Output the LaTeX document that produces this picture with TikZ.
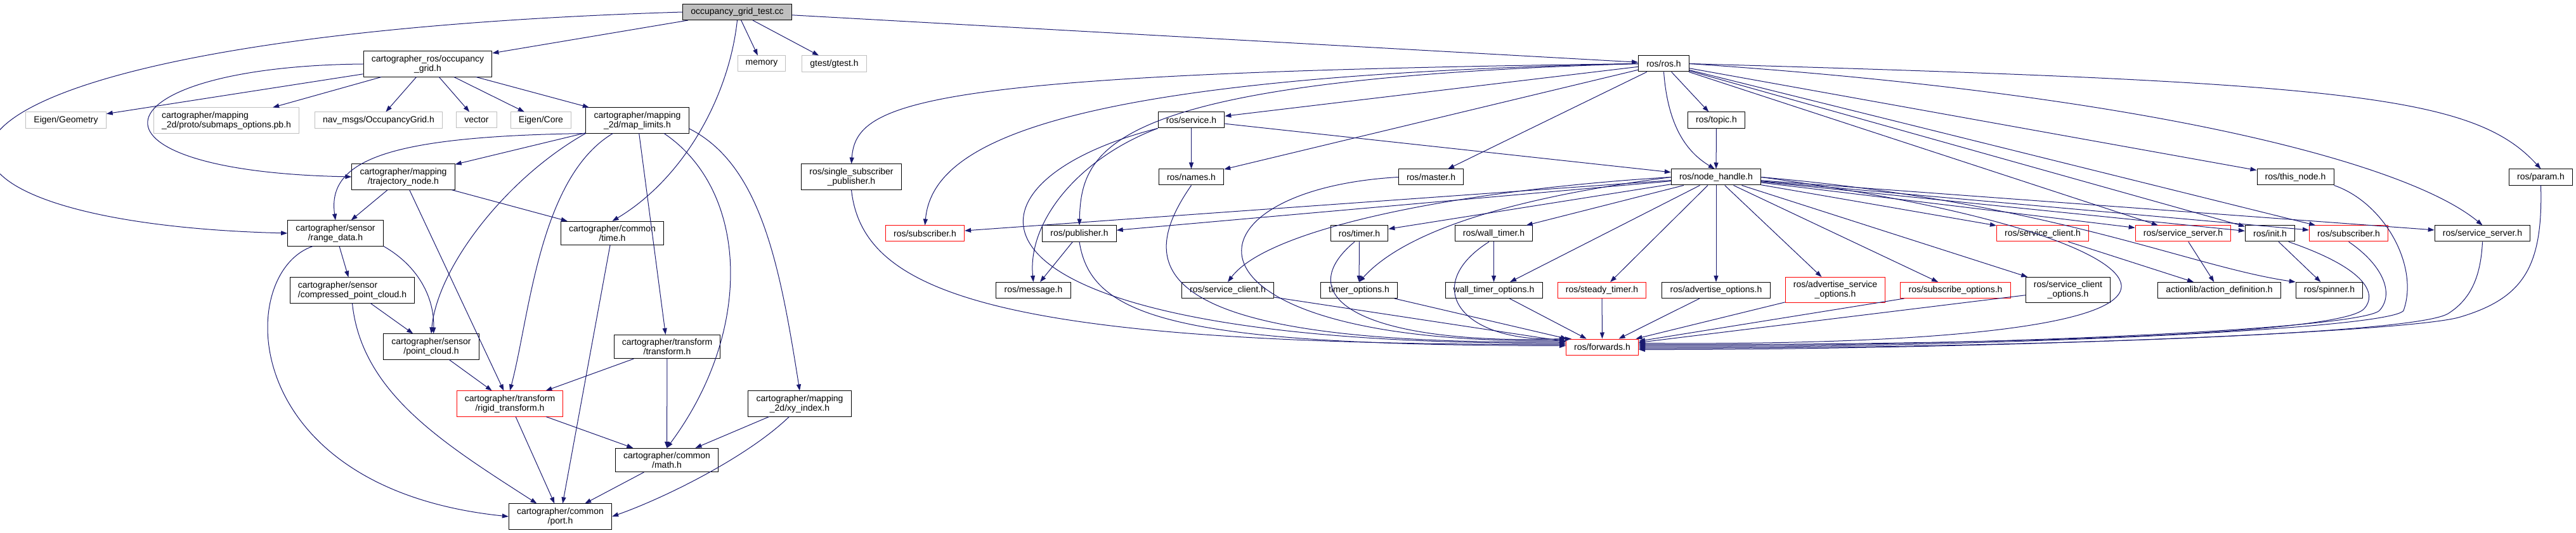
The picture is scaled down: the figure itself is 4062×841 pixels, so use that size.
\documentclass[tikz,border=0pt]{standalone}
\usepackage{fontspec}
\setmainfont{Liberation Sans}
\usetikzlibrary{arrows.meta}
\definecolor{edgeblue}{RGB}{25,25,112}
\definecolor{boxgray}{RGB}{191,191,191}

\begin{document}
\begin{tikzpicture}[x=0.75pt, y=-0.75pt, >={Triangle[length=7.5pt,width=5.25pt]},
  file/.style={draw, rectangle, line width=0.75pt, inner xsep=9.5pt, inner ysep=4.5pt, minimum height=18.75pt, align=center, font=\fontsize{10.5}{11.25}\selectfont},
  sysfile/.style={file, draw=boxgray},
  cutfile/.style={file, draw=red},
  rootfile/.style={file, fill=boxgray},
  dep/.style={->, draw=edgeblue, line width=0.75pt},
  every edge/.style={dep}]

  \useasboundingbox (0,0) rectangle (4062,841);

  % cartographer side
  \node[rootfile] (test) at (1162.5,19) {occupancy\_grid\_test.cc};
  \node[file] (ogrid) at (674.5,101) {cartographer\_ros/occupancy\\\_grid.h};
  \node[sysfile] (memory) at (1201,100.5) {memory};
  \node[sysfile] (gtest) at (1315.5,100.5) {gtest/gtest.h};
  \node[sysfile] (geometry) at (104,189.5) {Eigen/Geometry};
  \node[sysfile, align=left] (submaps) at (357,190) {cartographer/mapping\\\_2d/proto/submaps\_options.pb.h};
  \node[sysfile] (navmsgs) at (597,189.5) {nav\_msgs/OccupancyGrid.h};
  \node[sysfile] (vector) at (751.5,189.5) {vector};
  \node[sysfile] (eigencore) at (853,189.5) {Eigen/Core};
  \node[file] (limits) at (1005,190) {cartographer/mapping\\\_2d/map\_limits.h};
  \node[file] (trajnode) at (636,279) {cartographer/mapping\\/trajectory\_node.h};
  \node[file] (ssp) at (1342.5,279) {ros/single\_subscriber\\\_publisher.h};
  \node[file] (rangedata) at (529,368) {cartographer/sensor\\/range\_data.h};
  \node[file] (time) at (965.5,368) {cartographer/common\\/time.h};
  \node[file, align=left] (compressed) at (555.5,458) {cartographer/sensor\\/compressed\_point\_cloud.h};
  \node[file] (pointcloud) at (680,547) {cartographer/sensor\\/point\_cloud.h};
  \node[file] (transform) at (1052,547) {cartographer/transform\\/transform.h};
  \node[cutfile] (rigid) at (804,637) {cartographer/transform\\/rigid\_transform.h};
  \node[file] (xyindex) at (1261,637) {cartographer/mapping\\\_2d/xy\_index.h};
  \node[file] (math) at (1051.5,726) {cartographer/common\\/math.h};
  \node[file] (port) at (883.5,815) {cartographer/common\\/port.h};

  % ros side
  \node[file] (ros) at (2623.5,100.5) {ros/ros.h};
  \node[file] (service) at (1878.5,189.5) {ros/service.h};
  \node[file] (topic) at (2706.5,189.5) {ros/topic.h};
  \node[file] (names) at (1878.5,279.5) {ros/names.h};
  \node[file] (master) at (2256.5,279.5) {ros/master.h};
  \node[file] (handle) at (2706,279.5) {ros/node\_handle.h};
  \node[file] (thisnode) at (3619.5,279.5) {ros/this\_node.h};
  \node[file] (param) at (4006.5,279.5) {ros/param.h};
  \node[cutfile] (subA) at (1458.5,368.5) {ros/subscriber.h};
  \node[file] (publisher) at (1702,368.5) {ros/publisher.h};
  \node[file] (timer) at (2143.5,368.5) {ros/timer.h};
  \node[file] (walltimer) at (2355.5,368.5) {ros/wall\_timer.h};
  \node[cutfile] (clientA) at (3221,368.5) {ros/service\_client.h};
  \node[cutfile] (serverA) at (3442.5,368.5) {ros/service\_server.h};
  \node[file] (init) at (3579.5,368.5) {ros/init.h};
  \node[cutfile] (subB) at (3703.5,368.5) {ros/subscriber.h};
  \node[file] (serverB) at (3914.5,368.5) {ros/service\_server.h};
  \node[file] (message) at (1629.5,458) {ros/message.h};
  \node[file] (clientB) at (1936,458) {ros/service\_client.h};
  \node[file] (timeropt) at (2143,458) {timer\_options.h};
  \node[file] (walltimeropt) at (2355.5,458) {wall\_timer\_options.h};
  \node[cutfile] (steady) at (2526,458) {ros/steady\_timer.h};
  \node[file] (advopt) at (2706,458) {ros/advertise\_options.h};
  \node[cutfile] (advsrvopt) at (2894,457.5) {ros/advertise\_service\\\_options.h};
  \node[cutfile] (subopt) at (3083.5,458) {ros/subscribe\_options.h};
  \node[file] (clientopt) at (3261,457.5) {ros/service\_client\\\_options.h};
  \node[file] (actiondef) at (3499.5,458) {actionlib/action\_definition.h};
  \node[file] (spinner) at (3673,458) {ros/spinner.h};
  \node[cutfile] (forwards) at (2526.5,547.5) {ros/forwards.h};

  \path
  (test) edge (ogrid)
         edge (memory)
         edge (gtest)
         edge (ros)
  (ogrid) edge (geometry)
          edge (submaps)
          edge (navmsgs)
          edge (vector)
          edge (eigencore)
          edge (limits)
  (limits) edge (trajnode)
           edge (transform)
  (trajnode) edge (rangedata)
             edge (time)
             edge (rigid)
  (rangedata) edge (compressed)
  (compressed) edge (pointcloud)
  (pointcloud) edge (rigid)
  (transform) edge (rigid)
              edge (math)
  (rigid) edge (math)
          edge (port)
  (math) edge (port)
  (xyindex) edge (math)
  (time) edge (port);

  % curved ones on the cartographer side
  \draw[dep] (test.west) .. controls (-250,60) and (-250,350) .. (rangedata.west);
  \draw[dep] (test.south) .. controls (1150,150) and (1080,280) .. (time.north);
  \draw[dep] (ogrid.west) .. controls (150,105) and (100,270) .. (trajnode.west);
  \draw[dep] (limits.south west) .. controls (620,215) and (515,250) .. (rangedata.north);
  \draw[dep] (limits.south west) .. controls (800,280) and (690,420) .. (pointcloud.north);
  \draw[dep] (limits.208) .. controls (850,280) and (835,500) .. (rigid.north);
  \draw[dep] (limits.334) .. controls (1180,300) and (1190,520) .. (math.north);
  \draw[dep] (limits.351) .. controls (1200,260) and (1230,420) .. (xyindex.north);
  \draw[dep] (rangedata.210) .. controls (370,430) and (370,770) .. (port.west);
  \draw[dep] (rangedata.south east) .. controls (660,420) and (685,470) .. (pointcloud.80);
  \draw[dep] (compressed.south) .. controls (570,620) and (700,700) .. (port.151);
  \draw[dep] (xyindex.231) .. controls (1180,720) and (1050,785) .. (port.east);

  \path
  (ros) edge (service)
        edge (names)
        edge (master)
        edge (topic)
        edge (serverA)
        edge (init)
        edge (subB)
        edge (thisnode)
  (service) edge (names)
            edge (handle)
  (topic) edge (handle)
  (publisher) edge (message)
  (handle) edge (subA)
           edge (publisher)
           edge (timer)
           edge (walltimer)
           edge (walltimeropt)
           edge (steady)
           edge (advopt)
           edge (advsrvopt)
           edge (subopt)
           edge (clientopt)
           edge (clientA)
           edge (serverA)
           edge (init)
           edge (subB)
           edge (serverB)
  (timer) edge (timeropt)
  (walltimer) edge (walltimeropt)
  (clientB) edge (forwards)
  (timeropt) edge (forwards)
  (walltimeropt) edge (forwards)
  (steady) edge (forwards)
  (advopt) edge (forwards)
  (advsrvopt) edge (forwards)
  (subopt) edge (forwards)
  (clientopt) edge (forwards)
  (clientA) edge (actiondef)
  (serverA) edge (actiondef)
  (init) edge (spinner);

  % curved ones on the ros side
  \draw[dep] (ros.east) .. controls (3700,130) and (3900,150) .. (param.north);
  \draw[dep] (ros.east) .. controls (3400,150) and (3800,260) .. (serverB.north);
  \draw[dep] (ros.west) .. controls (1450,115) and (1350,160) .. (ssp.north);
  \draw[dep] (ros.west) .. controls (1650,120) and (1470,230) .. (subA.north);
  \draw[dep] (ros.west) .. controls (1750,125) and (1705,230) .. (publisher.north);
  \draw[dep] (ros.south) .. controls (2630,200) and (2660,240) .. (handle.100);
  \draw[dep] (service.south west) .. controls (1700,250) and (1620,350) .. (message.north);
  \draw[dep] (handle.west) .. controls (2300,300) and (2000,360) .. (clientB.north);
  \draw[dep] (handle.west) .. controls (2400,310) and (2220,360) .. (timeropt.north);
  \draw[dep] (handle.east) .. controls (3240,320) and (3450,420) .. (spinner.north west);
  \draw[dep] (handle.east) .. controls (3150,330) and (3340,400) .. (3345,450)
                           .. controls (3350,520) and (3000,545) .. (forwards.6);
  \draw[dep] (service.south west) .. controls (1480,290) and (1470,545) .. (forwards.174);
  \draw[dep] (ssp.south) .. controls (1360,460) and (1560,545) .. (forwards.176);
  \draw[dep] (publisher.south) .. controls (1720,500) and (1850,545) .. (forwards.178);
  \draw[dep] (names.south) .. controls (1790,420) and (1800,545) .. (forwards.172);
  \draw[dep] (master.west) .. controls (1850,300) and (1830,545) .. (forwards.170);
  \draw[dep] (timer.240) .. controls (2030,470) and (2150,545) .. (forwards.165);
  \draw[dep] (walltimer.240) .. controls (2240,450) and (2300,540) .. (forwards.north west);
  \draw[dep] (init.336) .. controls (3735,425) and (3748,465) .. (3728,487)
                        .. controls (3690,530) and (3100,545) .. (forwards.4);
  \draw[dep] (subB.south) .. controls (3760,420) and (3775,465) .. (3752,490)
                          .. controls (3720,520) and (3100,548) .. (forwards.2);
  \draw[dep] (thisnode.south east) .. controls (3760,320) and (3815,420) .. (3790,490)
                                   .. controls (3770,520) and (3100,550) .. (forwards.0);
  \draw[dep] (serverB.south) .. controls (3912,430) and (3900,470) .. (3860,495)
                             .. controls (3800,530) and (3100,550) .. (forwards.358);
  \draw[dep] (param.south) .. controls (4010,420) and (3980,470) .. (3880,500)
                           .. controls (3800,525) and (3100,552) .. (forwards.356);

\end{tikzpicture}
\end{document}
